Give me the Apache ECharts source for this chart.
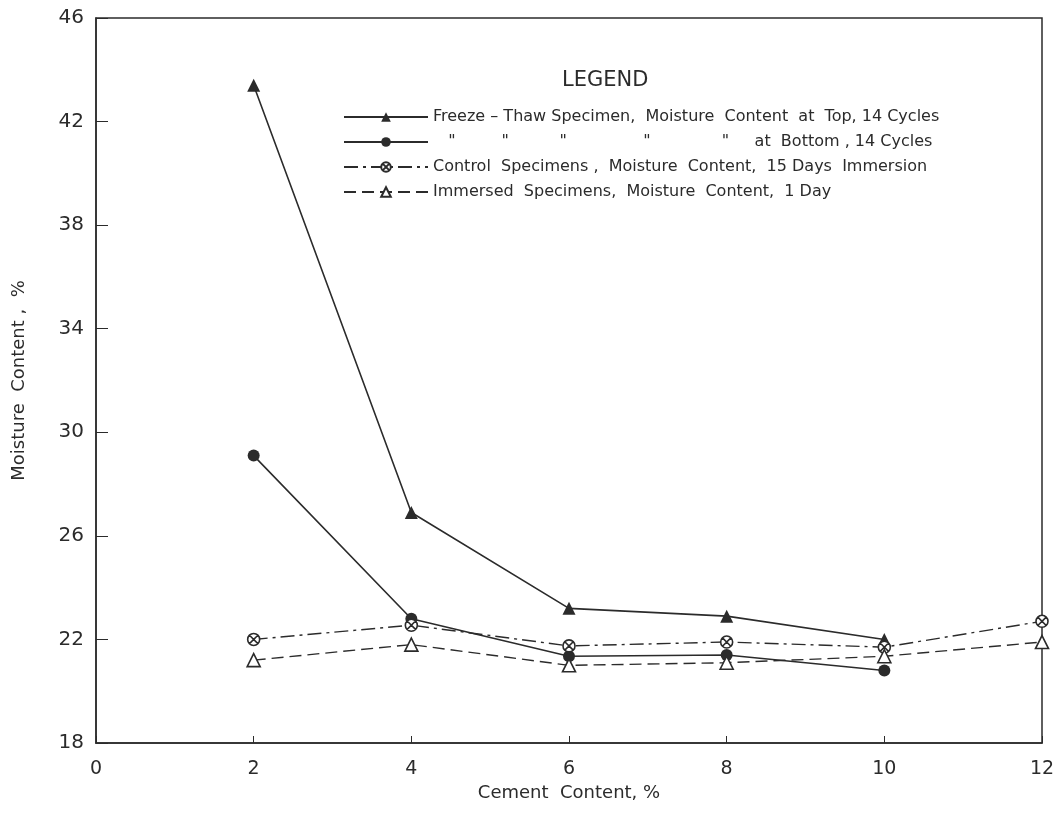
<!DOCTYPE html>
<html>
<head>
<meta charset="utf-8">
<script src="https://cdn.jsdelivr.net/npm/echarts@6/dist/echarts.min.js"></script>
<style>
  html, body { margin: 0; padding: 0; background: #fff; }
  #chart { width: 1063px; height: 820px; }
</style>
</head>
<body>
<div id="chart"></div>
<script>
// cement content, %
const cement = [2, 4, 6, 8, 10, 12]

// moisture content, %
const topFT = [43.4, 26.9, 23.2, 22.9, 22.0]
const bottomFT = [29.1, 22.8, 21.35, 21.4, 20.8]
const control15 = [22.0, 22.55, 21.75, 21.9, 21.7, 22.7]
const immersed1 = [21.2, 21.8, 21.0, 21.1, 21.35, 21.9]

const seriesNames = [
  'Freeze – Thaw Specimen,  Moisture  Content  at  Top, 14 Cycles',
  '   "         "          "               "              "     at  Bottom , 14 Cycles',
  'Control  Specimens ,  Moisture  Content,  15 Days  Immersion',
  'Immersed  Specimens,  Moisture  Content,  1 Day'
]

const ink = '#2b2b2b'
const font = 'DejaVu Sans'

// circle with an X
const crossCircle = 'path://M10,0 A10,10 0 1,1 9.99,0 Z M3,3 L17,17 M17,3 L3,17'

const pairs = (vals) => vals.map((v, i) => [cement[i], v])

const chart = echarts.init(document.getElementById('chart'))

chart.setOption({
  backgroundColor: '#fff',
  animation: false,
  textStyle: { fontFamily: font, color: ink },
  grid: {
    left: 96, right: 21, top: 18, bottom: 77,
    outerBoundsMode: 'none', containLabel: false,
    show: true, borderColor: ink, borderWidth: 1.5
  },
  graphic: [
    { type: 'text', left: 562, top: 70, style: { text: 'LEGEND', fontSize: 21, fontFamily: font, fill: ink } }
  ],
  legend: {
    orient: 'vertical',
    left: 338,
    top: 104,
    itemWidth: 84,
    itemHeight: 12,
    itemGap: 9,
    textStyle: { fontSize: 16, fontFamily: font, color: ink },
    data: seriesNames
  },
  xAxis: {
    type: 'value',
    min: 0,
    max: 12,
    interval: 2,
    name: 'Cement  Content, %',
    nameLocation: 'middle',
    nameGap: 40,
    nameTextStyle: { fontSize: 18, fontFamily: font, color: ink },
    axisLine: { lineStyle: { color: ink, width: 1.5 } },
    axisTick: { inside: true, length: 7, lineStyle: { color: ink } },
    axisLabel: { fontSize: 19, color: ink, margin: 17 },
    splitLine: { show: false }
  },
  yAxis: {
    type: 'value',
    min: 18,
    max: 46,
    interval: 4,
    name: 'Moisture  Content ,  %',
    nameLocation: 'middle',
    nameGap: 68,
    nameTextStyle: { fontSize: 18, fontFamily: font, color: ink },
    axisLine: { show: true, lineStyle: { color: ink, width: 1.5 } },
    axisTick: { show: true, inside: true, length: 12, lineStyle: { color: ink } },
    axisLabel: { fontSize: 20, color: ink, margin: 12 },
    splitLine: { show: false }
  },
  series: [
    {
      name: seriesNames[0],
      type: 'line',
      data: pairs(topFT),
      symbol: 'triangle',
      symbolSize: 13,
      itemStyle: { color: ink },
      lineStyle: { color: ink, width: 1.6 }
    },
    {
      name: seriesNames[1],
      type: 'line',
      data: pairs(bottomFT),
      symbol: 'circle',
      symbolSize: 12,
      itemStyle: { color: ink },
      lineStyle: { color: ink, width: 1.6 }
    },
    {
      name: seriesNames[2],
      type: 'line',
      data: pairs(control15),
      symbol: crossCircle,
      symbolSize: 12,
      itemStyle: { color: '#fff', borderColor: ink, borderWidth: 1.6 },
      lineStyle: { color: ink, width: 1.4, type: [14, 5, 3, 5] }
    },
    {
      name: seriesNames[3],
      type: 'line',
      data: pairs(immersed1),
      symbol: 'triangle',
      symbolSize: 13,
      itemStyle: { color: '#fff', borderColor: ink, borderWidth: 1.6 },
      lineStyle: { color: ink, width: 1.4, type: [12, 6] }
    }
  ]
})
</script>
</body>
</html>
